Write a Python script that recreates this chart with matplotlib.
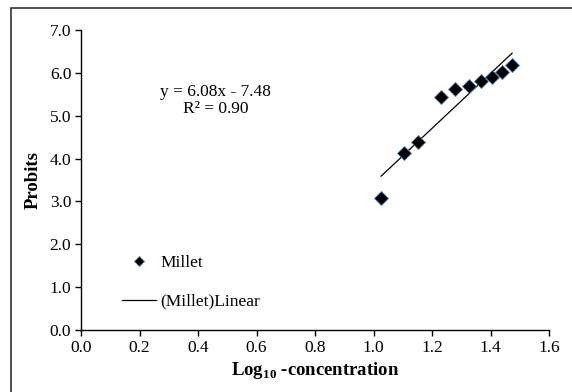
import numpy as np
import matplotlib
matplotlib.use("Agg")
import matplotlib.pyplot as plt
from matplotlib.patches import Rectangle

plt.rcParams['font.family'] = ['Liberation Serif', 'DejaVu Serif']
plt.rcParams['mathtext.fontset'] = 'custom'
plt.rcParams['mathtext.rm'] = 'Liberation Serif'
plt.rcParams['mathtext.bf'] = 'Liberation Serif:bold'

log_conc = [1.026, 1.105, 1.153, 1.230, 1.280, 1.325, 1.369, 1.406, 1.440, 1.474]
probits = [3.08, 4.12, 4.38, 5.43, 5.62, 5.69, 5.80, 5.91, 6.02, 6.18]
fit_x = [1.026, 1.474]
fit_y = [3.59, 6.46]
x_ticks = [0.0, 0.2, 0.4, 0.6, 0.8, 1.0, 1.2, 1.4, 1.6]
y_ticks = [0.0, 1.0, 2.0, 3.0, 4.0, 5.0, 6.0, 7.0]
eq_line1 = "y = 6.08x - 7.48"
eq_line2 = "R² = 0.90"

W, H = 572, 392
FS = 12.5
fig = plt.figure(figsize=(W / 100, H / 100), dpi=100)
fig.patches.append(Rectangle((11 / W, -0.05), 1.1, (392 - 8) / H + 0.05,
                             transform=fig.transFigure, fill=False,
                             edgecolor='#333333', linewidth=1.2))

ax = fig.add_axes([81 / W, (H - 330) / H, (549 - 81) / W, 300 / H])
ax.plot(log_conc, probits, linestyle='none', marker='D', markersize=7,
        markerfacecolor='black', markeredgecolor='#4a7fb5', markeredgewidth=0.6,
        label='Millet', zorder=3)
ax.plot(fit_x, fit_y, color='black', linewidth=0.9, label='(Millet)Linear', zorder=2)

ax.set_xlim(0, 1.6)
ax.set_ylim(0, 7.0)
ax.set_xticks(x_ticks)
ax.set_yticks(y_ticks)
ax.set_xticklabels([f"{v:.1f}" for v in x_ticks])
ax.set_yticklabels([f"{v:.1f}" for v in y_ticks])
for s in ['top', 'right']:
    ax.spines[s].set_visible(False)
for s in ['left', 'bottom']:
    ax.spines[s].set_linewidth(1.0)
ax.tick_params(direction='out', length=4, width=1.0, labelsize=FS, pad=3)

ax.set_xlabel(r"Log$_{\mathbf{10}}$ -concentration", fontsize=13.5, fontweight='bold', labelpad=3)
ax.set_ylabel("Probits", fontsize=13.5, fontweight='bold', labelpad=6)

ax.text(0.46, 5.55, eq_line1, ha='center', va='center', fontsize=FS)
ax.text(0.46, 5.15, eq_line2, ha='center', va='center', fontsize=FS)

leg = ax.legend(loc='lower left', bbox_to_anchor=(0.055, 0.015), frameon=False,
                fontsize=FS, handlelength=1.95, handletextpad=0.25, labelspacing=1.3,
                markerscale=0.75)

fig.savefig("out.png", dpi=100, facecolor='white')
